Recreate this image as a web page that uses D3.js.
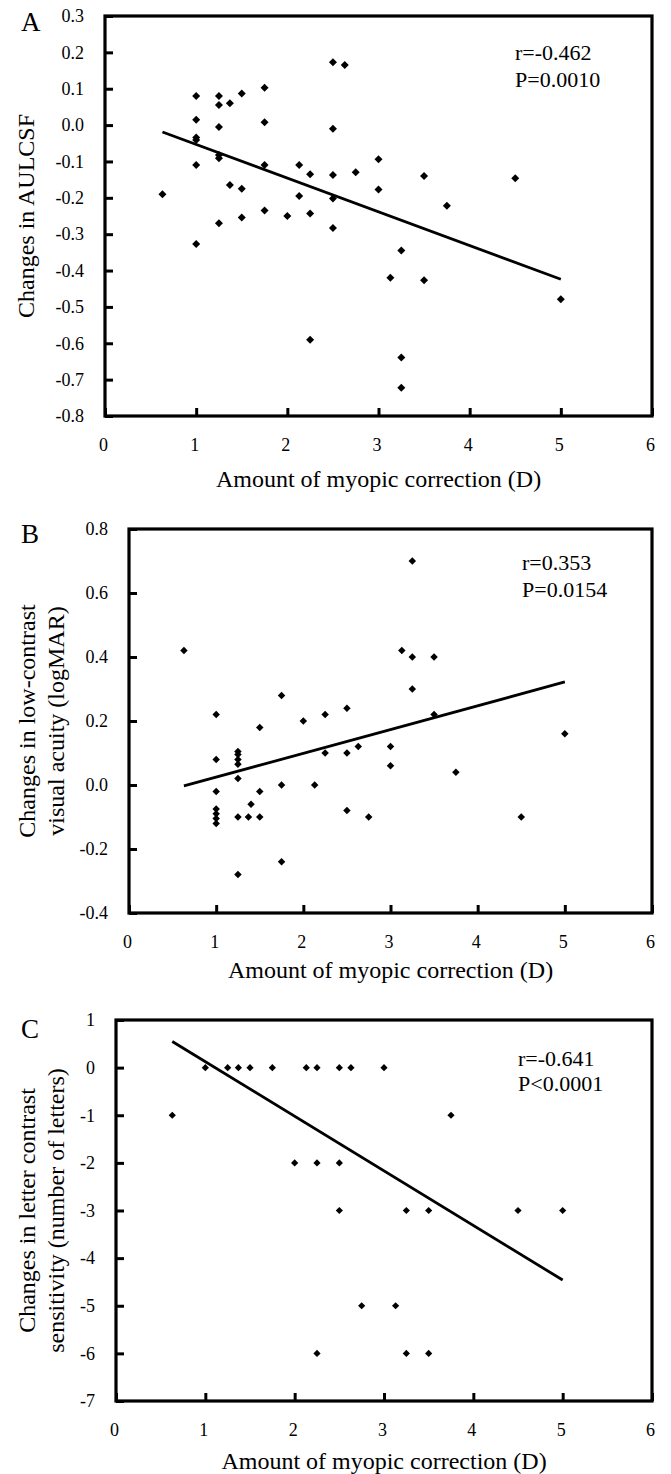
<!DOCTYPE html>
<html>
<head>
<meta charset="utf-8">
<script src="https://cdn.jsdelivr.net/npm/d3@7"></script>
<style>
html,body{margin:0;padding:0;background:#fff;}
svg{display:block;}
text{font-family:"Liberation Serif","Times New Roman",serif;fill:#000;}
</style>
</head>
<body>
<svg id="chart" width="671" height="1474"></svg>
<script>
// ---------- DATA ----------
const xTicks = [0, 1, 2, 3, 4, 5, 6];
const xTickLabels = ["0", "1", "2", "3", "4", "5", "6"];
const xTitle = "Amount of myopic correction (D)";

// Panel A: Changes in AULCSF
const aX = [0.63, 1.0, 1.0, 1.0, 1.0, 1.0, 1.0, 1.25, 1.25, 1.25, 1.25, 1.25, 1.25, 1.37, 1.37, 1.5, 1.5, 1.5,
  1.75, 1.75, 1.75, 1.75, 2.0, 2.13, 2.13, 2.25, 2.25, 2.25, 2.5, 2.5, 2.5, 2.5, 2.5, 2.63, 2.75, 3.0, 3.0,
  3.13, 3.25, 3.25, 3.25, 3.5, 3.5, 3.75, 4.5, 5.0];
const aY = [-0.19, 0.08, 0.015, -0.034, -0.041, -0.11, -0.327, 0.08, 0.055, -0.005, -0.082, -0.091, -0.27, 0.06, -0.165,
  0.087, -0.175, -0.254, 0.103, 0.008, -0.11, -0.235, -0.25, -0.11, -0.195, -0.135, -0.243, -0.59, 0.173, -0.01,
  -0.137, -0.202, -0.283, 0.165, -0.13, -0.094, -0.177, -0.42, -0.345, -0.639, -0.722, -0.14, -0.427, -0.222,
  -0.146, -0.479];
const aFitX = [0.63, 5.0];
const aFitY = [-0.019, -0.424];
const aYTicks = [0.3, 0.2, 0.1, 0.0, -0.1, -0.2, -0.3, -0.4, -0.5, -0.6, -0.7, -0.8];
const aYTickLabels = ["0.3", "0.2", "0.1", "0.0", "-0.1", "-0.2", "-0.3", "-0.4", "-0.5", "-0.6", "-0.7", "-0.8"];
const aYTitle = ["Changes in AULCSF"];
const aStats = ["r=-0.462", "P=0.0010"];

// Panel B: Changes in low-contrast visual acuity (logMAR)
const bX = [0.63, 1.0, 1.0, 1.0, 1.0, 1.0, 1.0, 1.0, 1.25, 1.25, 1.25, 1.25, 1.25, 1.25, 1.25, 1.37, 1.4,
  1.5, 1.5, 1.5, 1.75, 1.75, 1.75, 2.0, 2.13, 2.25, 2.25, 2.5, 2.5, 2.5, 2.63, 2.75, 3.0, 3.0, 3.13, 3.25,
  3.25, 3.25, 3.5, 3.5, 3.75, 4.5, 5.0];
const bY = [0.42, 0.22, 0.08, -0.02, -0.075, -0.09, -0.105, -0.12, 0.105, 0.095, 0.08, 0.065, 0.02, -0.10, -0.28,
  -0.10, -0.06, 0.18, -0.02, -0.10, 0.28, 0.0, -0.24, 0.20, 0.0, 0.22, 0.10, 0.24, 0.10, -0.08, 0.12, -0.10,
  0.12, 0.06, 0.42, 0.70, 0.40, 0.30, 0.40, 0.22, 0.04, -0.10, 0.16];
const bFitX = [0.63, 5.0];
const bFitY = [-0.003, 0.322];
const bYTicks = [0.8, 0.6, 0.4, 0.2, 0.0, -0.2, -0.4];
const bYTickLabels = ["0.8", "0.6", "0.4", "0.2", "0.0", "-0.2", "-0.4"];
const bYTitle = ["Changes in low-contrast", "visual acuity (logMAR)"];
const bStats = ["r=0.353", "P=0.0154"];

// Panel C: Changes in letter contrast sensitivity (number of letters)
const cX = [0.63, 1.0, 1.25, 1.37, 1.5, 1.75, 2.13, 2.25, 2.5, 2.63, 3.0, 2.0, 2.25, 2.5, 3.75, 2.5, 3.25, 3.5,
  4.5, 5.0, 2.75, 3.13, 2.25, 3.25, 3.5];
const cY = [-1, 0, 0, 0, 0, 0, 0, 0, 0, 0, 0, -2, -2, -2, -1, -3, -3, -3, -3, -3, -5, -5, -6, -6, -6];
const cFitX = [0.63, 5.0];
const cFitY = [0.55, -4.46];
const cYTicks = [1, 0, -1, -2, -3, -4, -5, -6, -7];
const cYTickLabels = ["1", "0", "-1", "-2", "-3", "-4", "-5", "-6", "-7"];
const cYTitle = ["Changes in letter contrast", "sensitivity (number of letters)"];
const cStats = ["r=-0.641", "P<0.0001"];

// ---------- DRAW ----------
const svg = d3.select("#chart");

const diamond = {
  draw(ctx, size) {
    const r = Math.sqrt(size / 2);
    ctx.moveTo(0, -r); ctx.lineTo(r, 0); ctx.lineTo(0, r); ctx.lineTo(-r, 0); ctx.closePath();
  }
};

function panel(cfg) {
  const g = svg.append("g");
  const x = d3.scaleLinear().domain([0, 6]).range([cfg.left, cfg.right]);
  const y = d3.scaleLinear().domain(cfg.yDomain).range([cfg.bottom, cfg.top]);

  // box
  g.append("rect")
    .attr("x", cfg.left).attr("y", cfg.top)
    .attr("width", cfg.right - cfg.left).attr("height", cfg.bottom - cfg.top)
    .attr("fill", "none").attr("stroke", "#000").attr("stroke-width", 3.2);

  // y axis
  const ya = g.append("g").attr("transform", `translate(${cfg.left},0)`)
    .call(d3.axisLeft(y).tickValues(cfg.yTicks)
      .tickFormat((d, i) => cfg.yTickLabels[i])
      .tickSizeInner(-8).tickSizeOuter(0).tickPadding(21));
  ya.select(".domain").remove();
  ya.selectAll(".tick line").attr("stroke", "#000").attr("stroke-width", 3);
  ya.selectAll(".tick text").attr("font-size", 18).attr("font-family", "Liberation Serif, serif").attr("fill", "#000");

  // x axis
  const xa = g.append("g").attr("transform", `translate(0,${cfg.bottom})`)
    .call(d3.axisBottom(x).tickValues(xTicks)
      .tickFormat((d, i) => xTickLabels[i])
      .tickSizeInner(-8).tickSizeOuter(0).tickPadding(22));
  xa.select(".domain").remove();
  xa.selectAll(".tick line").attr("stroke", "#000").attr("stroke-width", 3);
  xa.selectAll(".tick text").attr("font-size", 18).attr("font-family", "Liberation Serif, serif").attr("fill", "#000")
    .attr("dx", -2);

  // x title
  g.append("text").attr("x", (cfg.left + cfg.right) / 2).attr("y", cfg.xTitleY)
    .attr("text-anchor", "middle").attr("font-size", 24).text(xTitle);

  // y title
  const cy = (cfg.top + cfg.bottom) / 2;
  cfg.yTitle.forEach((t, i) => {
    g.append("text")
      .attr("transform", `translate(${cfg.yTitleX[i]},${cy}) rotate(-90)`)
      .attr("text-anchor", "middle").attr("font-size", 24).text(t);
  });

  // panel letter
  g.append("text").attr("x", 21).attr("y", cfg.letterY).attr("font-size", 27).text(cfg.letter);

  // stats
  cfg.stats.forEach((t, i) => {
    g.append("text").attr("x", cfg.statsX).attr("y", cfg.statsY[i]).attr("font-size", 22).text(t);
  });

  // fit line
  const line = d3.line().x(d => x(d[0])).y(d => y(d[1]));
  g.append("path").datum(cfg.fitX.map((v, i) => [v, cfg.fitY[i]]))
    .attr("d", line).attr("fill", "none").attr("stroke", "#000").attr("stroke-width", 2.8);

  // points
  const sym = d3.symbol().type(diamond).size(cfg.msize);
  g.append("g").selectAll("path").data(cfg.xs.map((v, i) => [v, cfg.ys[i]]))
    .join("path")
    .attr("d", sym)
    .attr("transform", d => `translate(${x(d[0])},${y(d[1])})`)
    .attr("fill", "#000");
}

panel({
  letter: "A", letterY: 31,
  left: 105, right: 652, top: 16, bottom: 416,
  yDomain: [-0.8, 0.3], yTicks: aYTicks, yTickLabels: aYTickLabels,
  xTitleY: 487, yTitle: aYTitle, yTitleX: [34],
  stats: aStats, statsX: 515, statsY: [60, 87],
  fitX: aFitX, fitY: aFitY, xs: aX, ys: aY, msize: 32
});

panel({
  letter: "B", letterY: 543,
  left: 129, right: 652, top: 529, bottom: 913,
  yDomain: [-0.4, 0.8], yTicks: bYTicks, yTickLabels: bYTickLabels,
  xTitleY: 978, yTitle: bYTitle, yTitleX: [35, 64],
  stats: bStats, statsX: 522, statsY: [570, 597],
  fitX: bFitX, fitY: bFitY, xs: bX, ys: bY, msize: 28
});

panel({
  letter: "C", letterY: 1038,
  left: 116, right: 652, top: 1020, bottom: 1401,
  yDomain: [-7, 1], yTicks: cYTicks, yTickLabels: cYTickLabels,
  xTitleY: 1469, yTitle: cYTitle, yTitleX: [35, 64],
  stats: cStats, statsX: 518, statsY: [1066, 1091],
  fitX: cFitX, fitY: cFitY, xs: cX, ys: cY, msize: 26
});
</script>
</body>
</html>
